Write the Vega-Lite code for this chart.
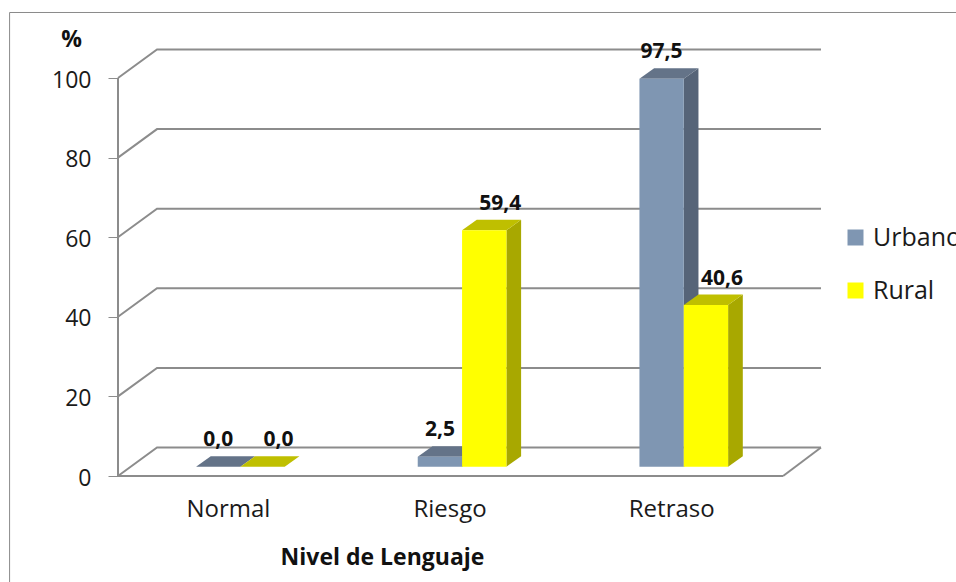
{
"$schema":"https://vega.github.io/schema/vega-lite/v6.json",
"width":703,"height":429,
"autosize":{"type":"none"},
"padding":{"left":118,"top":47,"right":135,"bottom":106},
"background":"white",
"config":{"view":{"stroke":null},"font":"Open Sans"},
"data":{"values":[
{"Nivel":"Normal","Area":"Urbano","valor":0},
{"Nivel":"Normal","Area":"Rural","valor":0},
{"Nivel":"Riesgo","Area":"Urbano","valor":2.5},
{"Nivel":"Riesgo","Area":"Rural","valor":59.4},
{"Nivel":"Retraso","Area":"Urbano","valor":97.5},
{"Nivel":"Retraso","Area":"Rural","valor":40.6}
]},
"resolve":{"scale":{"color":"independent"},"axis":{"x":"independent","y":"independent"}},
"layer":[
{"data":{"values":[{"v":0},{"v":20},{"v":40},{"v":60},{"v":80},{"v":100}]},
 "transform":[{"calculate":"0","as":"a"},{"calculate":"0.176","as":"b"},{"calculate":"3.171","as":"c"},{"fold":["a","b","c"],"as":["k","xv"]},{"calculate":"datum.k=='a'?datum.v:datum.v+7.16","as":"yv"}],
 "mark":{"type":"line","color":"#8c8c8c","strokeWidth":2},
 "encoding":{
  "x":{"field":"xv","type":"quantitative","scale":{"domain":[0,3.171],"nice":false,"zero":false},
    "axis":{"values":[0.5,1.5,2.5],"labelExpr":"datum.value==0.5?'Normal':datum.value==1.5?'Riesgo':'Retraso'","domain":false,"ticks":false,"grid":false,"labelFontSize":24,"labelColor":"#1a1a1a","labelPadding":21,"labelOffset":-1,"title":"Nivel de Lenguaje","titleFontSize":23,"titleFontWeight":"bold","titleColor":"#111111","titleX":264,"titleY":81,"titleAnchor":"middle","titleBaseline":"middle"}},
  "y":{"field":"yv","type":"quantitative","scale":{"domain":[0,107.79],"nice":false,"zero":false},
    "axis":{"values":[0,20,40,60,80,100],"domain":false,"grid":false,"tickSize":10,"tickColor":"#8c8c8c","tickWidth":1,"labelFontSize":23,"labelColor":"#1a1a1a","labelPadding":17,"labelOffset":2,"title":"%","titleAngle":0,"titleFontSize":23,"titleFontWeight":"bold","titleColor":"#111111","titleX":-47,"titleY":-8,"titleAlign":"center","titleBaseline":"middle"}},
  "detail":{"field":"v"}}},
{"data":{"values":[{"xa":0,"xb":3,"ya":0,"yb":0},{"xa":0,"xb":0,"ya":0,"yb":100}]},
 "mark":{"type":"rule","color":"#8c8c8c","strokeWidth":2},
 "encoding":{
  "x":{"field":"xa","type":"quantitative","scale":{"domain":[0,3.171],"nice":false,"zero":false},"axis":null},
  "x2":{"field":"xb"},
  "y":{"field":"ya","type":"quantitative","scale":{"domain":[0,107.79],"nice":false,"zero":false},"axis":null},
  "y2":{"field":"yb"}}},
{"data":{"values":[{"xa":3,"ya":0},{"xa":3.171,"ya":7.16}]},
 "mark":{"type":"line","color":"#8c8c8c","strokeWidth":2},
 "encoding":{
  "x":{"field":"xa","type":"quantitative","scale":{"domain":[0,3.171],"nice":false,"zero":false},"axis":null},
  "y":{"field":"ya","type":"quantitative","scale":{"domain":[0,107.79],"nice":false,"zero":false},"axis":null}}},
{"data":{"values":[{"xa":-0.489,"xb":3.78,"ya":116.46,"yb":116.46},{"xa":-0.489,"xb":-0.489,"ya":116.46,"yb":-26.7}]},
 "mark":{"type":"rule","color":"#8a8a8a","strokeWidth":1},
 "encoding":{
  "x":{"field":"xa","type":"quantitative","scale":{"domain":[0,3.171],"nice":false,"zero":false},"axis":null},
  "x2":{"field":"xb"},
  "y":{"field":"ya","type":"quantitative","scale":{"domain":[0,107.79],"nice":false,"zero":false},"axis":null},
  "y2":{"field":"yb"}}},
{"transform":[
  {"calculate":"indexof(['Normal','Riesgo','Retraso'],datum.Nivel)+0.552-(datum.Area=='Urbano'?0.2:0)","as":"x0"},
  {"calculate":"datum.x0+0.2","as":"xs1"},
  {"calculate":"datum.xs1+0.0663","as":"xs2"},
  {"calculate":"datum.valor+2.34","as":"ytop"},
  {"fold":["xs1","xs2"],"as":["k","xv"]},
  {"calculate":"datum.k=='xs1'?datum.ytop:datum.ytop+2.64","as":"yu"},
  {"calculate":"datum.k=='xs1'?2.34:4.98","as":"yl"}],
 "mark":{"type":"area","opacity":1},
 "encoding":{
  "x":{"field":"xv","type":"quantitative","scale":{"domain":[0,3.171],"nice":false,"zero":false},"axis":null},
  "y":{"field":"yu","type":"quantitative","stack":null,"scale":{"domain":[0,107.79],"nice":false,"zero":false},"axis":null},
  "y2":{"field":"yl"},
  "detail":{"field":"Nivel"},
  "color":{"field":"Area","type":"nominal","scale":{"domain":["Urbano","Rural"],"range":["#566478","#A8A800"]},"legend":null}}},
{"transform":[
  {"calculate":"indexof(['Normal','Riesgo','Retraso'],datum.Nivel)+0.552-(datum.Area=='Urbano'?0.2:0)","as":"k0"},
  {"calculate":"datum.k0+0.0663","as":"k1"},
  {"calculate":"datum.k0+0.2","as":"k2"},
  {"calculate":"datum.k2+0.0663","as":"k3"},
  {"calculate":"datum.valor+2.34","as":"ytop"},
  {"fold":["k0","k1","k2","k3"],"as":["k","xv"]},
  {"calculate":"datum.k=='k0'?datum.ytop:datum.ytop+2.64","as":"yu"},
  {"calculate":"datum.k=='k3'?datum.ytop+2.64:datum.ytop","as":"yl"}],
 "mark":{"type":"area","opacity":1},
 "encoding":{
  "x":{"field":"xv","type":"quantitative","scale":{"domain":[0,3.171],"nice":false,"zero":false},"axis":null},
  "y":{"field":"yu","type":"quantitative","stack":null,"scale":{"domain":[0,107.79],"nice":false,"zero":false},"axis":null},
  "y2":{"field":"yl"},
  "detail":{"field":"Nivel"},
  "color":{"field":"Area","type":"nominal","scale":{"domain":["Urbano","Rural"],"range":["#647388","#BFBF00"]},"legend":null}}},
{"transform":[
  {"calculate":"indexof(['Normal','Riesgo','Retraso'],datum.Nivel)+0.552-(datum.Area=='Urbano'?0.2:0)","as":"x0"},
  {"calculate":"datum.x0+0.2","as":"x1"},
  {"calculate":"datum.valor+2.34","as":"ytop"},
  {"calculate":"2.34","as":"ybase"}],
 "mark":{"type":"bar"},
 "encoding":{
  "x":{"field":"x0","type":"quantitative","scale":{"domain":[0,3.171],"nice":false,"zero":false},"axis":null},
  "x2":{"field":"x1"},
  "y":{"field":"ytop","type":"quantitative","stack":null,"scale":{"domain":[0,107.79],"nice":false,"zero":false},"axis":null},
  "y2":{"field":"ybase"},
  "color":{"field":"Area","type":"nominal","scale":{"domain":["Urbano","Rural"],"range":["#7F96B2","#FFFF00"]},
    "legend":{"title":null,"orient":"none","legendX":725,"legendY":178,"symbolType":"square","symbolSize":256,"symbolStrokeWidth":0,"labelFontSize":25,"labelColor":"#1a1a1a","labelLimit":300,"rowPadding":27,"labelOffset":5}}}},
{"transform":[
  {"calculate":"indexof(['Normal','Riesgo','Retraso'],datum.Nivel)+0.552+(datum.Area=='Urbano'?-0.1:0.172)","as":"tx"},
  {"calculate":"datum.valor+9","as":"ty"},
  {"calculate":"replace(format(datum.valor,'.1f'),'.',',')","as":"etiqueta"}],
 "mark":{"type":"text","fontSize":21,"fontWeight":"bold","color":"#111111","baseline":"middle","align":"center"},
 "encoding":{
  "x":{"field":"tx","type":"quantitative","scale":{"domain":[0,3.171],"nice":false,"zero":false},"axis":null},
  "y":{"field":"ty","type":"quantitative","scale":{"domain":[0,107.79],"nice":false,"zero":false},"axis":null},
  "text":{"field":"etiqueta"}}}
]
}
